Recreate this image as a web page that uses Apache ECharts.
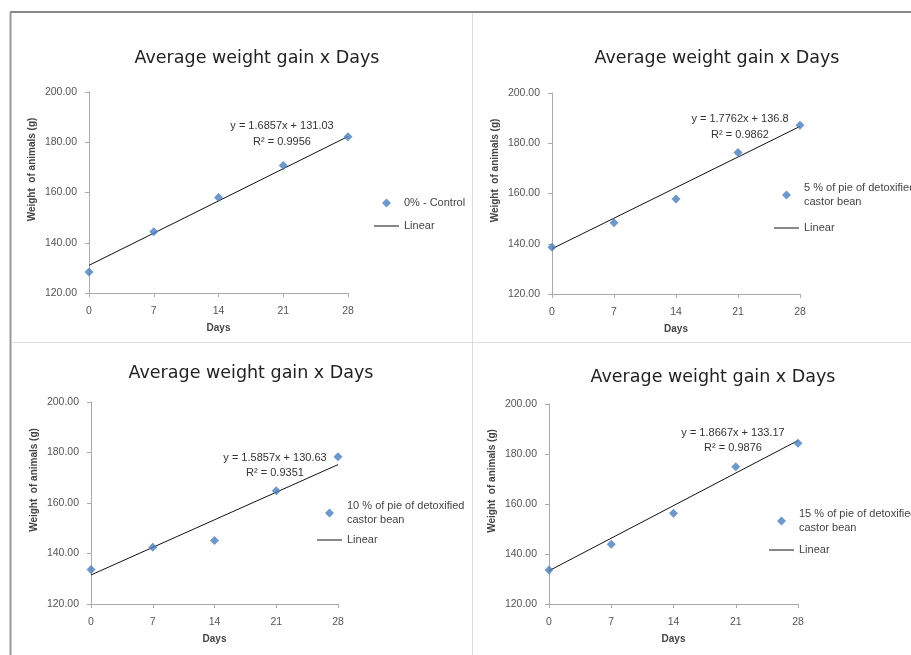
<!DOCTYPE html>
<html>
<head>
<meta charset="utf-8">
<script src="https://cdn.jsdelivr.net/npm/echarts@6/dist/echarts.min.js"></script>
<style>html,body{margin:0;padding:0;background:#fff}#c{width:911px;height:655px}</style>
</head>
<body>
<div id="c"></div>
<script>
// ---- data ----
var days = [0, 7, 14, 21, 28];
var yTicks = [120, 140, 160, 180, 200];
var control0 = [128.4, 144.4, 158.0, 170.7, 182.2];
var pie5 = [138.6, 148.4, 157.8, 176.3, 187.2];
var pie10 = [133.7, 142.5, 145.1, 164.9, 178.3];
var pie15 = [133.6, 143.9, 156.3, 174.9, 184.3];
// trend line values at day 0 and day 28 (as drawn)
var trend0 = [131.0, 182.3];
var trend5 = [138.0, 186.7];
var trend10 = [131.5, 175.2];
var trend15 = [133.3, 185.4];
var seriesNames = ['0% - Control', '5 % of pie of detoxified castor bean', '10 % of pie of detoxified castor bean', '15 % of pie of detoxified castor bean'];
var equations = [
  ['y = 1.6857x + 131.03', 'R\u00b2 = 0.9956'],
  ['y = 1.7762x + 136.8', 'R\u00b2 = 0.9862'],
  ['y = 1.5857x + 130.63', 'R\u00b2 = 0.9351'],
  ['y = 1.8667x + 133.17', 'R\u00b2 = 0.9876']
];
var titleText = 'Average weight gain x Days';
var xName = 'Days';
var yName = 'Weight  of animals (g)';

var values = [control0, pie5, pie10, pie15];
var trends = [trend0, trend5, trend10, trend15];

// ---- layout ----
var grids = [
  {left: 89, top: 92, width: 259, height: 201},
  {left: 552, top: 93, width: 248, height: 201},
  {left: 91, top: 402, width: 247, height: 202},
  {left: 549, top: 404, width: 249, height: 200}
];
var titlePos = [[252, 44.5], [712, 44.5], [246, 359.5], [708, 363.5]];
var legendPos = [[374, 196], [774, 181], [317, 499], [769, 507]];
var legendGap = [9, 12, 6, 8];
var eqPos = [[282, 126, 141.7], [740, 119, 135], [275, 458, 472.7], [733, 433, 448]];

var font = 'Liberation Sans, Arial, sans-serif';
var diamondIcon = 'path://M0,0L0,0M25,9L25,9M12.5,0L17,4.5L12.5,9L8,4.5Z';
var lineIcon = 'path://M0,0L0,0M25,9L25,9M0,4L25,4L25,5L0,5Z';
var option = {
  backgroundColor: '#fff',
  animation: false,
  title: [], grid: [], xAxis: [], yAxis: [], series: [], legend: [], graphic: []
};

for (var i = 0; i < 4; i++) {
  option.title.push({
    text: titleText, left: titlePos[i][0], top: titlePos[i][1], textAlign: 'center',
    textStyle: {fontFamily: 'DejaVu Sans, sans-serif', fontSize: 17.5, fontWeight: 'normal', color: '#222'}
  });
  option.grid.push(grids[i]);
  option.xAxis.push({
    type: 'value', gridIndex: i, min: 0, max: 28, interval: 7,
    name: xName, nameLocation: 'middle', nameGap: 30,
    nameTextStyle: {fontFamily: font, fontSize: 10, fontWeight: 'bold', color: '#444'},
    axisLine: {lineStyle: {color: '#aaa'}},
    axisTick: {show: true, length: 4, lineStyle: {color: '#aaa'}},
    axisLabel: {fontFamily: font, fontSize: 10.5, color: '#555', margin: 13},
    splitLine: {show: false}
  });
  option.yAxis.push({
    type: 'value', gridIndex: i, min: yTicks[0], max: yTicks[yTicks.length - 1], interval: 20,
    name: yName, nameLocation: 'middle', nameGap: 52, nameRotate: 90,
    nameTextStyle: {fontFamily: font, fontSize: 10, fontWeight: 'bold', color: '#444', padding: [0, 0, 0, 46]},
    axisLine: {show: true, lineStyle: {color: '#aaa'}},
    axisTick: {show: true, length: 4, lineStyle: {color: '#aaa'}},
    axisLabel: {fontFamily: font, fontSize: 10.5, color: '#555', margin: 12, formatter: function (v) { return v.toFixed(2); }},
    splitLine: {show: false}
  });
  option.series.push({
    type: 'scatter', name: seriesNames[i], xAxisIndex: i, yAxisIndex: i,
    symbol: 'diamond', symbolSize: 9,
    itemStyle: {color: '#4A7EBB'},
    data: days.map(function (d, k) { return [d, values[i][k]]; }),
    z: 3
  });
  option.series.push({
    type: 'line', name: 'Linear', xAxisIndex: i, yAxisIndex: i,
    showSymbol: false, symbol: 'none',
    lineStyle: {color: '#111', width: 1},
    itemStyle: {color: '#111'},
    data: [[days[0], trends[i][0]], [days[days.length - 1], trends[i][1]]],
    z: 2
  });
  option.legend.push({
    orient: 'vertical', left: legendPos[i][0], top: legendPos[i][1], padding: 0,
    itemWidth: 25, itemHeight: 9, itemGap: legendGap[i],
    data: [{name: seriesNames[i], icon: diamondIcon}, {name: 'Linear', icon: lineIcon}],
    textStyle: {fontFamily: font, fontSize: 11, color: '#444', lineHeight: 14},
    formatter: function (n) { return n.replace(' detoxified ', ' detoxified\n'); },
    selectedMode: false
  });
  option.graphic.push({
    type: 'text', x: eqPos[i][0], y: eqPos[i][1], silent: true,
    style: {text: equations[i][0], align: 'center', verticalAlign: 'middle', fontFamily: font, fontSize: 11, fill: '#333'}
  });
  option.graphic.push({
    type: 'text', x: eqPos[i][0], y: eqPos[i][2], silent: true,
    style: {text: equations[i][1], align: 'center', verticalAlign: 'middle', fontFamily: font, fontSize: 11, fill: '#333'}
  });
}
// frame and dividers
option.graphic.push(
  {type: 'line', shape: {x1: 10, y1: 12, x2: 911, y2: 12}, style: {stroke: '#888', lineWidth: 2}, silent: true},
  {type: 'line', shape: {x1: 10.5, y1: 12, x2: 10.5, y2: 655}, style: {stroke: '#999', lineWidth: 2}, silent: true},
  {type: 'line', shape: {x1: 472.5, y1: 13, x2: 472.5, y2: 655}, style: {stroke: '#ddd', lineWidth: 1}, silent: true},
  {type: 'line', shape: {x1: 11, y1: 342.5, x2: 911, y2: 342.5}, style: {stroke: '#ddd', lineWidth: 1}, silent: true}
);

var chart = echarts.init(document.getElementById('c'), null, {renderer: 'canvas'});
chart.setOption(option);
</script>
</body>
</html>
